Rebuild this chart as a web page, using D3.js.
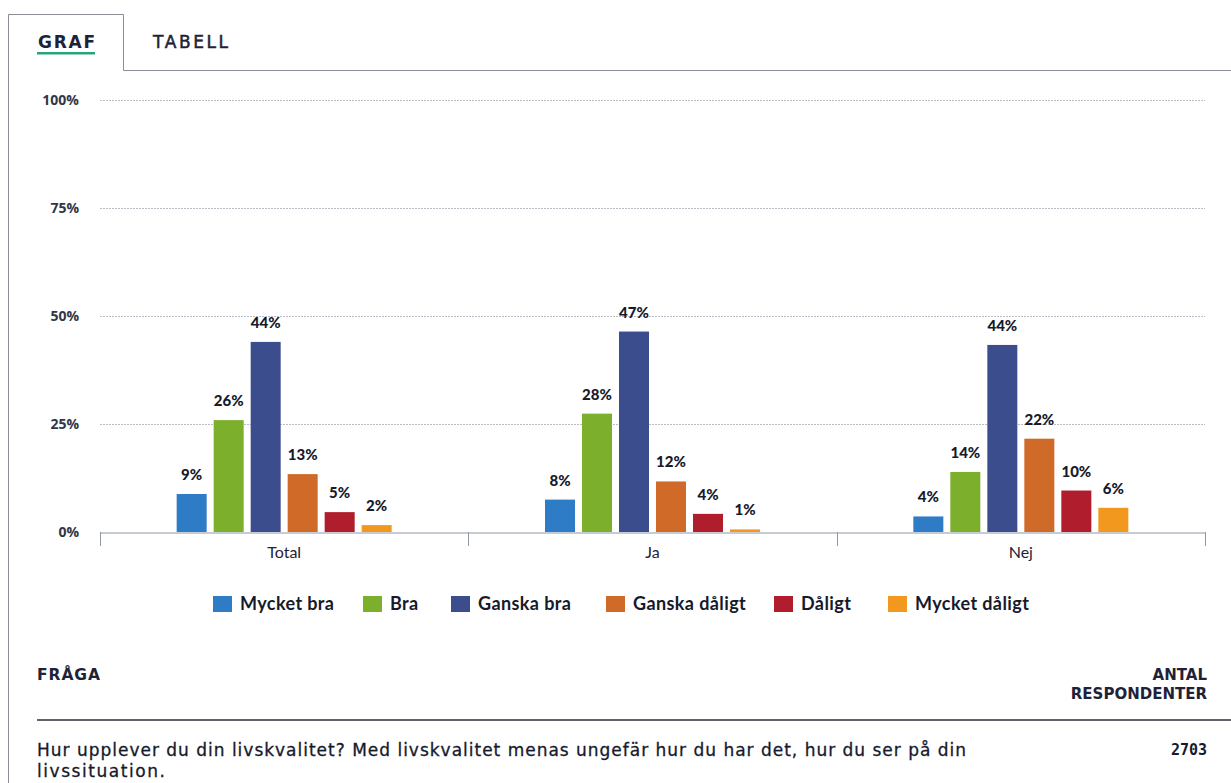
<!DOCTYPE html>
<html><head><meta charset="utf-8">
<script src="https://cdn.jsdelivr.net/npm/d3@7"></script>
<style>
html,body{margin:0;padding:0;background:#fff;}
svg{display:block;}
</style></head>
<body>
<svg id="chart" width="1231" height="783"></svg>
<script>
const categories = ["Total", "Ja", "Nej"];
const seriesNames = ["Mycket bra", "Bra", "Ganska bra", "Ganska dåligt", "Dåligt", "Mycket dåligt"];
const seriesColors = ["#2f7cc6", "#7cb02c", "#3b4d8c", "#d06a28", "#b01d2c", "#f3981f"];
const valuesTotal = [8.8, 25.9, 44.0, 13.4, 4.6, 1.6];
const valuesJa = [7.5, 27.4, 46.4, 11.7, 4.2, 0.6];
const valuesNej = [3.6, 13.9, 43.3, 21.6, 9.6, 5.6];
const valueLabelsTotal = ["9%", "26%", "44%", "13%", "5%", "2%"];
const valueLabelsJa = ["8%", "28%", "47%", "12%", "4%", "1%"];
const valueLabelsNej = ["4%", "14%", "44%", "22%", "10%", "6%"];
const yTicks = [0, 25, 50, 75, 100];
const yTickLabels = ["0%", "25%", "50%", "75%", "100%"];
const tabLabels = ["GRAF", "TABELL"];
const questionLabel = "FRÅGA";
const countLabel = ["ANTAL", "RESPONDENTER"];
const questionText = ["Hur upplever du din livskvalitet? Med livskvalitet menas ungefär hur du har det, hur du ser på din", "livssituation."];
const respondents = "2703";

const allValues = [valuesTotal, valuesJa, valuesNej];
const allLabels = [valueLabelsTotal, valueLabelsJa, valueLabelsNej];

const svg = d3.select("#chart");
const dark = "#1e2238";
const sans = "'Open Sans', sans-serif";
const wide = "'DejaVu Sans', sans-serif";

// frame / tabs
svg.append("path")
  .attr("d", "M8.5,783 L8.5,14.5 L123.5,14.5 L123.5,70.5 L1231,70.5")
  .attr("fill", "none").attr("stroke", "#8a8d96").attr("stroke-width", 1);
svg.append("text").attr("x", 38).attr("y", 48).text(tabLabels[0])
  .attr("font-family", wide).attr("font-weight", 700)
  .attr("font-size", 17).attr("textLength", 57).attr("lengthAdjust", "spacing").attr("fill", dark);
svg.append("rect").attr("x", 37).attr("y", 52).attr("width", 58).attr("height", 2.5).attr("fill", "#2aa37a");
svg.append("text").attr("x", 153).attr("y", 48).text(tabLabels[1])
  .attr("font-family", wide).attr("font-weight", 400)
  .attr("font-size", 17).attr("textLength", 75).attr("lengthAdjust", "spacing")
  .attr("fill", dark).attr("stroke", dark).attr("stroke-width", 0.5);

// scales
const x0 = d3.scaleBand().domain(categories).range([100, 1205]).paddingInner(0).paddingOuter(0);
const groupW = 215;
const x1 = d3.scaleBand().domain(seriesNames).range([0, groupW]).paddingInner(7/37).paddingOuter(0);
const y = d3.scaleLinear().domain([0, 100]).range([532, 100]);

// gridlines
svg.append("g").selectAll("line").data(yTicks.filter(d => d > 0)).join("line")
  .attr("x1", 100).attr("x2", 1205)
  .attr("y1", d => y(d) + 0.5).attr("y2", d => y(d) + 0.5)
  .attr("stroke", "#b9bcc4").attr("stroke-width", 1).attr("stroke-dasharray", "2,1");

// y labels
svg.append("g").selectAll("text").data(yTicks).join("text")
  .attr("x", 79).attr("y", d => y(d) + 5).attr("text-anchor", "end")
  .attr("font-family", sans).attr("font-weight", 700)
  .attr("font-size", 14).attr("fill", "#333645")
  .text((d, i) => yTickLabels[i]);

// x axis
const xAxis = d3.axisBottom(x0).tickSize(0).tickPadding(14);
const gx = svg.append("g").attr("transform", "translate(0,532.5)").call(xAxis);
gx.select(".domain").attr("stroke", "#8f96a8");
gx.selectAll("text").attr("font-family", "Lato, sans-serif").attr("font-size", 16)
  .attr("fill", dark).attr("dy", "0.71em");
const boundaries = categories.map(c => x0(c)).concat([x0(categories[categories.length-1]) + x0.bandwidth()]);
svg.append("g").selectAll("line").data(boundaries).join("line")
  .attr("x1", d => Math.round(d) + 0.5).attr("x2", d => Math.round(d) + 0.5)
  .attr("y1", 532).attr("y2", 546).attr("stroke", "#8f96a8");

// bars
const groups = svg.append("g").selectAll("g").data(categories).join("g")
  .attr("transform", c => `translate(${x0(c) + (x0.bandwidth() - groupW) / 2},0)`);
groups.each(function(c, gi) {
  const g = d3.select(this);
  const data = seriesNames.map((s, i) => ({s, v: allValues[gi][i], label: allLabels[gi][i], color: seriesColors[i]}));
  g.selectAll("rect").data(data).join("rect")
    .attr("x", d => x1(d.s)).attr("width", x1.bandwidth())
    .attr("y", d => y(d.v)).attr("height", d => y(0) - y(d.v))
    .attr("fill", d => d.color);
  g.selectAll("text").data(data).join("text")
    .attr("x", d => x1(d.s) + x1.bandwidth() / 2).attr("y", d => y(d.v) - 14)
    .attr("text-anchor", "middle")
    .attr("font-family", "Lato, sans-serif").attr("font-weight", 900)
    .attr("font-size", 15).attr("fill", "#161a2c")
    .text(d => d.label);
});

// legend
const legendX = [213, 363, 451, 606, 774, 888];
const lg = svg.append("g").selectAll("g").data(seriesNames).join("g")
  .attr("transform", (d, i) => `translate(${legendX[i]},596)`);
lg.append("rect").attr("width", 19).attr("height", 16).attr("fill", (d, i) => seriesColors[i]);
lg.append("text").attr("x", 27).attr("y", 14).text(d => d)
  .attr("font-family", "Lato, sans-serif").attr("font-weight", 700)
  .attr("font-size", 18).attr("letter-spacing", 0.4).attr("fill", "#161a2c");

// bottom section
svg.append("text").attr("x", 37).attr("y", 680).text(questionLabel)
  .attr("font-family", wide).attr("font-weight", 700)
  .attr("font-size", 15.5).attr("textLength", 63).attr("lengthAdjust", "spacing").attr("fill", dark);
svg.append("text").attr("x", 1207).attr("y", 680).attr("text-anchor", "end").text(countLabel[0])
  .attr("font-family", wide).attr("font-weight", 700)
  .attr("font-size", 15).attr("fill", dark);
svg.append("text").attr("x", 1207).attr("y", 699).attr("text-anchor", "end").text(countLabel[1])
  .attr("font-family", wide).attr("font-weight", 700)
  .attr("font-size", 15).attr("fill", dark);
svg.append("line").attr("x1", 37).attr("x2", 1231).attr("y1", 720).attr("y2", 720)
  .attr("stroke", "#2a2d3a").attr("stroke-width", 1.5);
const qWidths = [929, 128];
svg.append("g").selectAll("text").data(questionText).join("text")
  .attr("x", 37).attr("y", (d, i) => 756 + i * 21).text(d => d)
  .attr("font-family", wide).attr("font-weight", 400)
  .attr("font-size", 17).attr("textLength", (d, i) => qWidths[i]).attr("lengthAdjust", "spacing")
  .attr("fill", "#161a2c").attr("stroke", "#161a2c").attr("stroke-width", 0.3);
svg.append("text").attr("x", 1207).attr("y", 755).attr("text-anchor", "end").text(respondents)
  .attr("font-family", "'DejaVu Sans Mono', monospace").attr("font-weight", 700)
  .attr("font-size", 15).attr("fill", "#161a2c");
</script>
</body></html>
